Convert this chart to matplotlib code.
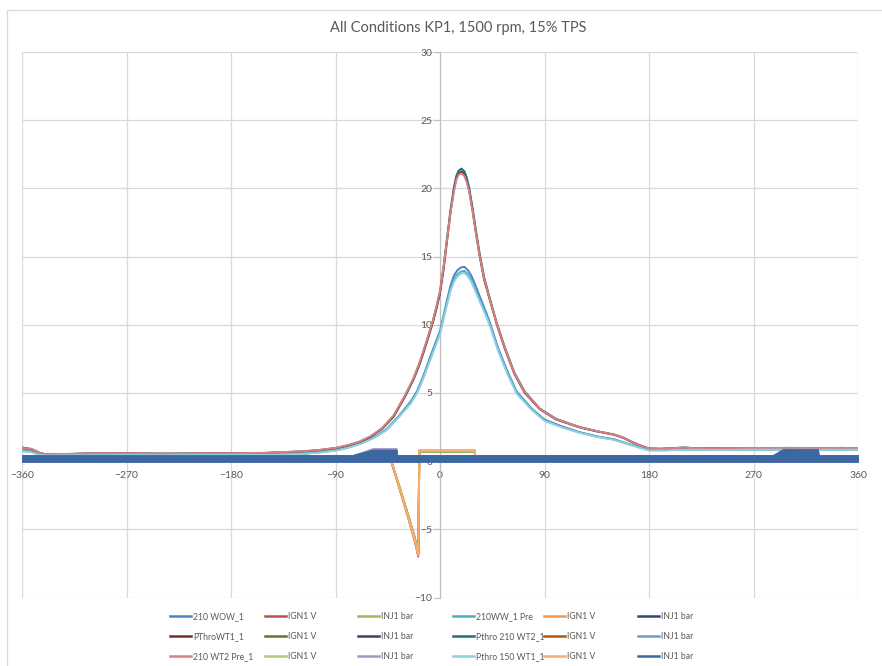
import matplotlib
matplotlib.use('Agg')
import matplotlib.pyplot as plt
from matplotlib.lines import Line2D
from matplotlib.patches import Rectangle

plt.rcParams['font.family'] = ['Lato', 'DejaVu Sans']

title = "All Conditions KP1, 1500 rpm, 15% TPS"
x_ticks = [-360, -270, -180, -90, 0, 90, 180, 270, 360]
y_ticks = [-10, -5, 0, 5, 10, 15, 20, 25, 30]

# ---------------- cylinder pressure traces (bar) ----------------
# high-pressure group
hi_x = [-360, -352, -345, -340, -320, -300, -270, -240, -210, -180,
        -150, -120, -105, -90, -80, -70, -60, -50, -40, -30,
        -23, -18, -14, -10, -6, -3, 0, 3, 6, 9,
        12, 14, 16, 18.5, 21, 23, 25, 28, 31, 34,
        38, 43, 49, 56, 64, 73, 86, 100, 120, 135,
        150, 158, 165, 172, 180, 190, 200, 210, 225, 240,
        270, 300, 330, 345, 360]
pthro_wt1_1 = [0.95, 0.85, 0.6, 0.5, 0.52, 0.56, 0.56, 0.54, 0.55, 0.56,
               0.6, 0.7, 0.78, 0.94, 1.12, 1.37, 1.76, 2.36, 3.25, 4.75,
               5.95, 7.0, 8.0, 9.1, 10.2, 11.2, 12.3, 14.0, 16.1, 18.2,
               19.9, 20.7, 21.1, 21.25, 21.05, 20.6, 19.9, 18.4, 16.7, 15.1,
               13.3, 11.8, 10.0, 8.2, 6.4, 5.0, 3.8, 3.05, 2.48, 2.18,
               1.93, 1.7, 1.4, 1.15, 0.92, 0.9, 0.94, 0.98, 0.92, 0.94,
               0.95, 0.96, 0.95, 0.96, 0.95]
pthro_210_wt2_1 = [1.0, 0.9, 0.62, 0.5, 0.52, 0.57, 0.57, 0.55, 0.56, 0.57,
                   0.6, 0.71, 0.8, 0.96, 1.14, 1.39, 1.79, 2.39, 3.3, 4.8,
                   6.0, 7.1, 8.1, 9.2, 10.3, 11.3, 12.4, 14.2, 16.3, 18.4,
                   20.1, 20.9, 21.3, 21.45, 21.25, 20.8, 20.1, 18.6, 16.9, 15.3,
                   13.5, 11.9, 10.1, 8.3, 6.5, 5.1, 3.85, 3.1, 2.5, 2.2,
                   1.95, 1.72, 1.42, 1.17, 0.93, 0.9, 0.95, 1.0, 0.92, 0.95,
                   0.95, 0.97, 0.95, 0.97, 0.95]
wt2_pre_210_1 = [0.97, 0.88, 0.61, 0.51, 0.53, 0.58, 0.58, 0.56, 0.57, 0.58,
                 0.61, 0.72, 0.81, 0.97, 1.16, 1.41, 1.82, 2.42, 3.35, 4.85,
                 6.05, 7.15, 8.15, 9.25, 10.35, 11.4, 12.5, 14.2, 16.2, 18.2,
                 19.8, 20.6, 21.0, 21.1, 20.9, 20.45, 19.8, 18.35, 16.7, 15.15,
                 13.4, 11.85, 10.05, 8.25, 6.45, 5.05, 3.82, 3.08, 2.5, 2.2,
                 1.94, 1.71, 1.41, 1.16, 0.93, 0.91, 0.95, 0.99, 0.93, 0.95,
                 0.96, 0.97, 0.96, 0.97, 0.96]

# low-pressure group
lo_x = [-360, -352, -345, -340, -300, -270, -240, -210, -180, -150,
        -120, -105, -90, -80, -67, -55, -46, -35, -25, -20,
        -16, -12, -8, -4, 0, 3, 6, 9, 12, 15,
        18, 21, 24, 27, 30, 33, 36, 40, 43, 50,
        58, 66, 79, 90, 105, 120, 135, 150, 160, 172,
        180, 195, 210, 240, 270, 300, 330, 360]
wow_210_1 = [0.78, 0.7, 0.5, 0.44, 0.46, 0.47, 0.46, 0.47, 0.47, 0.48,
             0.54, 0.64, 0.8, 0.99, 1.35, 1.83, 2.35, 3.35, 4.4, 5.1,
             5.9, 6.8, 7.75, 8.65, 9.55, 10.65, 11.8, 12.85, 13.6, 14.0,
             14.2, 14.25, 14.0, 13.6, 13.0, 12.35, 11.7, 10.85, 10.15, 8.3,
             6.6, 5.1, 3.85, 3.05, 2.55, 2.13, 1.82, 1.6, 1.32, 1.02,
             0.82, 0.82, 0.86, 0.83, 0.86, 0.86, 0.86, 0.86]
ww_210_1_pre = [0.75, 0.68, 0.48, 0.43, 0.45, 0.46, 0.45, 0.46, 0.46, 0.47,
                0.53, 0.63, 0.78, 0.97, 1.33, 1.8, 2.3, 3.3, 4.3, 5.0,
                5.8, 6.7, 7.6, 8.5, 9.4, 10.5, 11.6, 12.6, 13.3, 13.7,
                13.9, 13.95, 13.7, 13.3, 12.7, 12.1, 11.5, 10.7, 10.0, 8.2,
                6.5, 5.0, 3.8, 3.0, 2.5, 2.1, 1.8, 1.57, 1.3, 1.0,
                0.8, 0.8, 0.85, 0.82, 0.85, 0.85, 0.85, 0.85]
pthro_150_wt1_1 = [0.73, 0.66, 0.47, 0.42, 0.44, 0.45, 0.44, 0.45, 0.45, 0.46,
                   0.52, 0.62, 0.77, 0.96, 1.31, 1.78, 2.28, 3.27, 4.25, 4.95,
                   5.7, 6.6, 7.5, 8.4, 9.3, 10.4, 11.45, 12.45, 13.15, 13.55,
                   13.75, 13.8, 13.55, 13.15, 12.55, 11.95, 11.35, 10.55, 9.9, 8.1,
                   6.4, 4.95, 3.75, 2.95, 2.47, 2.08, 1.78, 1.55, 1.28, 0.98,
                   0.79, 0.79, 0.84, 0.81, 0.84, 0.84, 0.84, 0.84]

# ---------------- ignition voltage traces (IGN1 V) ----------------
ign_x = [-360, -42, -35, -28, -22, -18.7, -17.8, 30, 30.5, 360]
ign_1 = [0, 0, -2.0, -4.0, -5.8, -7.0, 0.72, 0.72, 0, 0]
ign_2 = [0, 0, -1.9, -3.9, -5.65, -6.85, 0.78, 0.78, 0, 0]
ign_3 = [0, 0, -1.85, -3.8, -5.5, -6.7, 0.68, 0.68, 0, 0]
ign_4 = [0, 0, -1.9, -3.85, -5.6, -6.8, 0.75, 0.75, 0, 0]
ign_5 = [0, 0, -1.85, -3.85, -5.55, -6.75, 0.7, 0.7, 0, 0]
ign_6 = [0, 0, -1.95, -3.95, -5.7, -6.9, 0.8, 0.8, 0, 0]

# ---------------- injector pressure (INJ1 bar) envelopes ----------------
inj_x = [-360, -75, -58, -37.5, -37, 287, 295.5, 325.5, 326, 360]
inj_lo = [-0.05, -0.05, -0.05, -0.05, -0.05, -0.05, -0.05, -0.05, -0.05, -0.05]
inj_hi_1 = [0.45, 0.45, 0.84, 0.84, 0.45, 0.45, 0.86, 0.86, 0.45, 0.45]
inj_hi_2 = [0.45, 0.45, 0.86, 0.86, 0.45, 0.45, 0.87, 0.87, 0.45, 0.45]
inj_hi_3 = [0.45, 0.45, 0.88, 0.88, 0.45, 0.45, 0.88, 0.88, 0.45, 0.45]
inj_hi_4 = [0.45, 0.45, 0.87, 0.87, 0.45, 0.45, 0.87, 0.87, 0.45, 0.45]
inj_hi_5 = [0.45, 0.45, 0.96, 0.96, 0.45, 0.45, 0.89, 0.89, 0.45, 0.45]
inj_hi_6 = [0.45, 0.45, 0.85, 0.85, 0.45, 0.45, 0.9, 0.9, 0.45, 0.45]

# series in Excel order (row-wise in the legend)
series = [
    ('210 WOW_1', 'p', lo_x, wow_210_1, '#4F81BD'),
    ('IGN1 V', 'i', ign_x, ign_1, '#C0504D'),
    ('INJ1 bar', 'j', inj_x, inj_hi_1, '#9BBB59'),
    ('210WW_1 Pre', 'p', lo_x, ww_210_1_pre, '#4BACC6'),
    ('IGN1 V', 'i', ign_x, ign_2, '#F79646'),
    ('INJ1 bar', 'j', inj_x, inj_hi_2, '#2C4D75'),
    ('PThroWT1_1', 'p', hi_x, pthro_wt1_1, '#772C2A'),
    ('IGN1 V', 'i', ign_x, ign_3, '#5F7530'),
    ('INJ1 bar', 'j', inj_x, inj_hi_3, '#4D3B62'),
    ('Pthro 210 WT2_1', 'p', hi_x, pthro_210_wt2_1, '#276A7C'),
    ('IGN1 V', 'i', ign_x, ign_4, '#B65708'),
    ('INJ1 bar', 'j', inj_x, inj_hi_4, '#729ACA'),
    ('210 WT2 Pre_1', 'p', hi_x, wt2_pre_210_1, '#D9807E'),
    ('IGN1 V', 'i', ign_x, ign_5, '#AFCB7C'),
    ('INJ1 bar', 'j', inj_x, inj_hi_5, '#A894C6'),
    ('Pthro 150 WT1_1', 'p', lo_x, pthro_150_wt1_1, '#8FD0E0'),
    ('IGN1 V', 'i', ign_x, ign_6, '#F9AC6E'),
    ('INJ1 bar', 'j', inj_x, inj_hi_6, '#3B67A3'),
]

fig = plt.figure(figsize=(8.82, 6.66), dpi=100)
ax = fig.add_axes([22 / 882, 1 - 597.5 / 666, 836 / 882, 545.5 / 666])

handles = []
for z, (name, kind, xs, ys, col) in enumerate(series):
    if kind == 'j':
        ax.fill_between(xs, inj_lo, ys, color=col, lw=0.6, ec=col, zorder=3 + z * 0.01)
    else:
        ax.plot(xs, ys, color=col, lw=1.4, zorder=3 + z * 0.01,
                solid_joinstyle='round')
    handles.append(Line2D([], [], color=col, lw=1.8))

ax.set_xlim(-360, 360)
ax.set_ylim(-10, 30)
ax.set_xticks(x_ticks)
ax.set_yticks(y_ticks)
ax.grid(True, color='#D9D9D9', lw=0.9)
ax.set_axisbelow(True)
for s in ('top', 'right'):
    ax.spines[s].set_visible(False)
ax.spines['left'].set_position(('data', 0))
ax.spines['bottom'].set_position(('data', 0))
ax.spines['left'].set_color('#BFBFBF')
ax.spines['bottom'].set_color('#BFBFBF')
ax.spines['left'].set_zorder(2.5)
ax.spines['bottom'].set_zorder(2.5)
ax.tick_params(axis='y', direction='out', length=4, width=0.8, color='#BFBFBF',
               labelsize=7.5, labelcolor='#595959', pad=1.5)
ax.tick_params(axis='x', direction='out', length=0, labelsize=7.5,
               labelcolor='#595959', pad=7)

fig.text(458 / 882, 1 - 28 / 666, title, ha='center', va='center',
         fontsize=10.5, color='#595959')

# chart-area border
fig.add_artist(Rectangle((7 / 882, -0.1), 1.2, 1.1 - 10 / 666, transform=fig.transFigure,
                         fill=False, edgecolor='#D9D9D9', lw=0.9))

# legend: 6 columns x 3 rows, filled row-wise
col_x = [170, 265, 358, 453, 544, 638]
labels = [s[0] for s in series]
for c in range(6):
    idx = [c, c + 6, c + 12]
    fig.legend([handles[i] for i in idx], [labels[i] for i in idx],
               loc='center left', bbox_to_anchor=(col_x[c] / 882, 1 - 636.5 / 666),
               frameon=False, fontsize=6.2, labelcolor='#595959',
               handlelength=2.4, handletextpad=0.3, borderpad=0,
               borderaxespad=0, labelspacing=1.3)

fig.savefig('out.png', dpi=100)
